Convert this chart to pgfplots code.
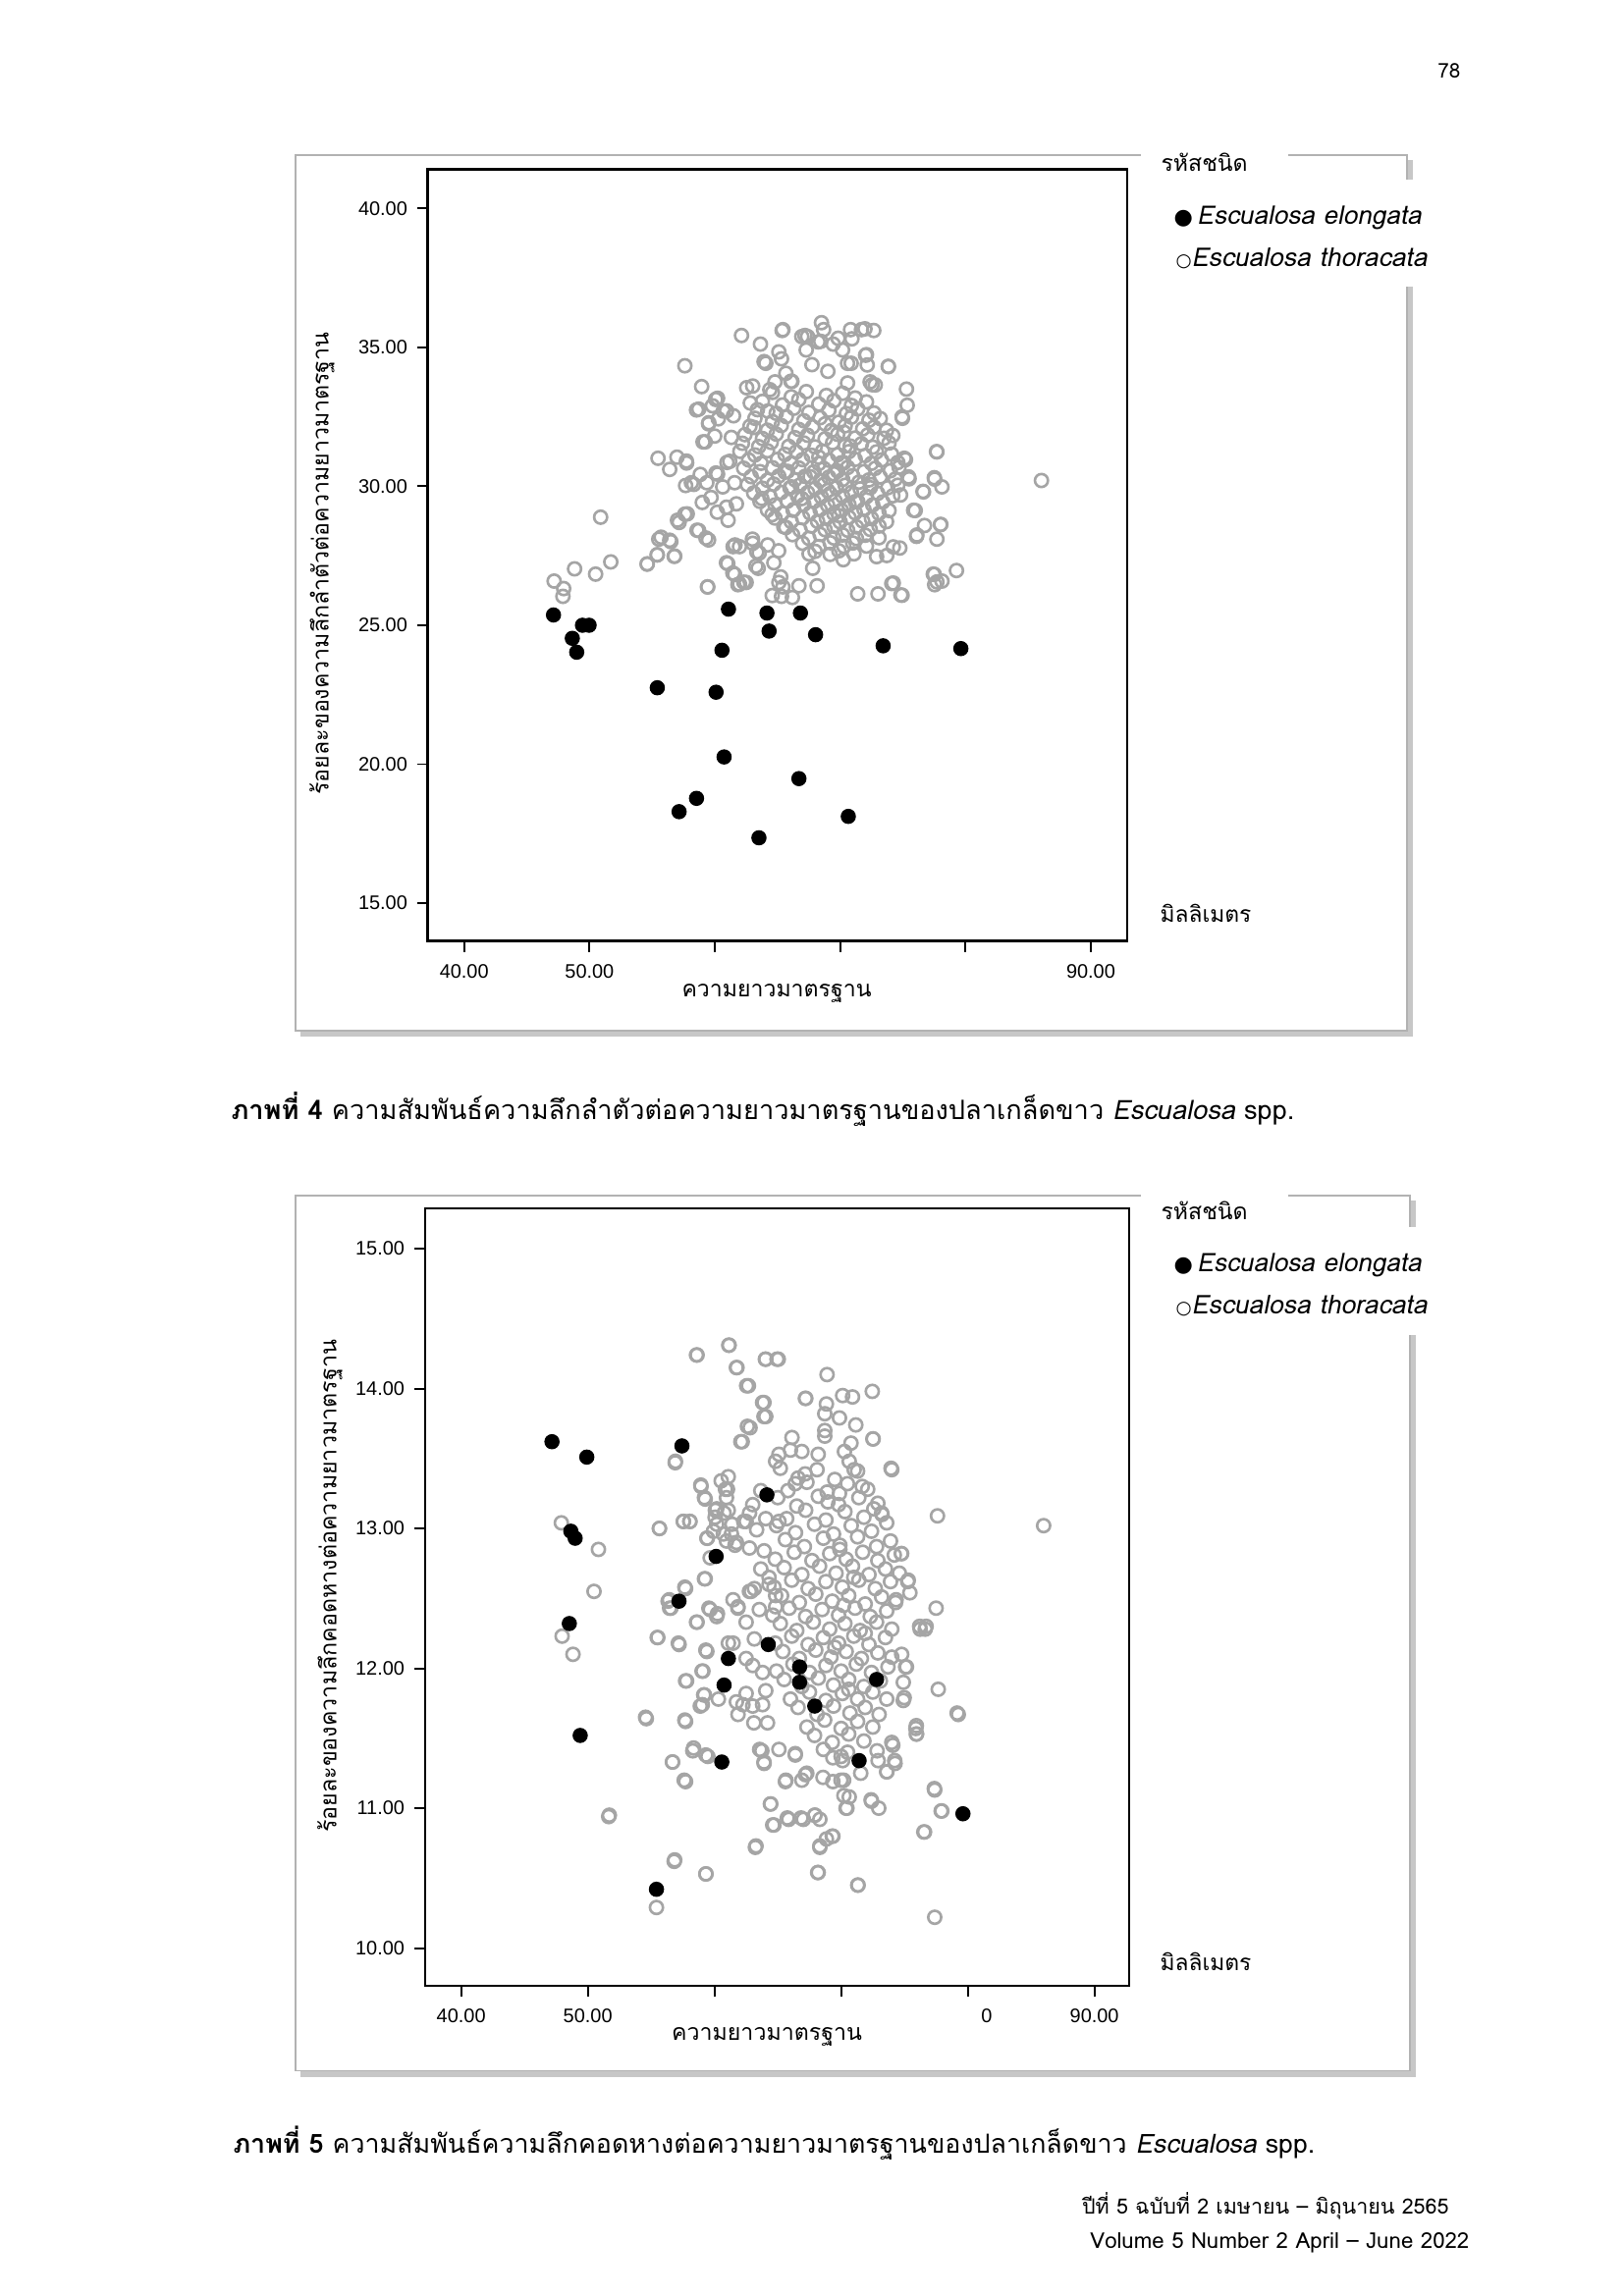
\documentclass[border=0pt]{standalone}
\usepackage{graphicx}
\usepackage{fontspec}
\setmainfont{Liberation Sans}
\newfontfamily\thai[Script=Thai, AutoFakeSlant=0.2]{Loma}
\newfontfamily\sym{DejaVu Sans}
\usepackage{pgfplots}
\pgfplotsset{compat=1.18}
\definecolor{ringgray}{RGB}{165,165,165}
\newcommand{\tickfont}{\fontsize{7.2}{8.5}\selectfont}
\pgfplotsset{myaxis/.style={scale only axis, anchor=north west,
  axis line style={line width=0.9pt},
  tick style={black, line width=0.7pt}, tick align=outside,
  major tick length=1.4mm, tick pos=left,
  ticklabel style={font=\tickfont},
  xticklabel style={yshift=-0.4mm}}}
\pgfplotsset{grayring/.style={only marks, mark=o, mark size=2.4pt, draw=ringgray, mark options={line width=0.95pt, draw=ringgray}},
  blackdot/.style={only marks, mark=*, mark size=2.6pt, mark options={fill=black, draw=black}}}
\begin{document}
\begin{tikzpicture}
\useasboundingbox (0,0) rectangle (210mm,296.98mm);
\begin{scope}[shift={(0,296.98mm)}, x=0.12697mm, y=-0.12697mm]
% frames
\fill[black!22] (306,163) rectangle (1439,1056);
\filldraw[fill=white, draw=black!30, line width=0.4pt] (301,158) rectangle (1433,1050);
\fill[white] (1162,140) rectangle (1312,185);
\fill[white] (1165,183) rectangle (1478,292);
\fill[black!22] (306,1223) rectangle (1442,2116);
\filldraw[fill=white, draw=black!30, line width=0.4pt] (301,1218) rectangle (1436,2110);
\fill[white] (1162,1200) rectangle (1312,1250);
\fill[white] (1165,1250) rectangle (1478,1360);
\end{scope}

%================ TOP CHART =================
\begin{axis}[myaxis, at={(55.32mm,275.07mm)}, width=90.44mm, height=99.79mm,
  xmin=37.1, xmax=92.9, ymin=13.64, ymax=41.41,
  xtick={40,50,60,70,80,90}, xticklabels={40.00,50.00,,,,90.00},
  ytick={15,20,25,30,35,40}, yticklabels={15.00,20.00,25.00,30.00,35.00,40.00}]
\addplot[grayring] table {
x y
47.18 26.59
47.94 26.32
47.88 26.04
48.81 27.03
50.49 26.84
50.89 28.89
51.70 27.28
54.60 27.20
55.41 27.53
55.53 28.10
56.40 28.06
56.80 27.49
57.15 28.70
57.61 34.34
55.47 31.01
56.40 30.61
56.98 31.05
57.73 30.91
57.67 30.03
58.13 30.13
57.61 29.00
58.71 28.41
59.29 28.14
59.41 26.38
58.54 32.75
58.95 33.59
59.06 31.60
59.00 29.42
59.81 32.90
59.52 32.29
59.99 31.81
60.22 33.17
60.68 32.71
60.22 30.44
60.63 29.98
60.97 30.86
61.32 31.76
61.49 32.54
61.03 27.22
61.44 26.88
61.84 26.46
62.31 26.55
61.61 27.89
62.13 35.43
62.54 33.55
62.83 33.00
63.12 32.12
63.64 35.12
63.93 34.49
64.22 32.71
64.39 33.48
64.80 33.76
65.43 35.64
65.32 34.59
65.67 34.07
66.07 33.78
66.94 35.39
67.40 35.39
67.29 34.91
67.75 34.38
68.51 35.89
68.68 35.64
68.45 35.22
69.44 35.12
69.84 35.33
70.19 34.91
70.83 35.64
71.70 35.64
70.88 34.43
72.10 34.74
72.39 33.76
72.80 33.65
73.84 34.32
75.29 33.50
75.35 32.92
74.94 32.50
75.12 31.01
75.46 30.34
74.82 29.69
75.86 29.14
76.09 28.20
76.61 29.82
77.54 30.26
77.72 31.24
78.12 29.98
78.00 28.62
77.72 28.10
77.43 26.84
77.54 26.46
78.12 26.59
79.28 26.97
74.12 26.50
74.94 26.08
73.02 26.13
71.40 26.13
74.76 27.78
74.24 27.82
73.72 27.51
72.91 27.47
86.06 30.21
66.19 26.00
65.43 26.38
65.26 26.74
65.32 26.04
66.71 26.42
67.81 27.05
68.16 26.42
67.52 27.57
70.25 27.36
63.46 27.05
63.35 27.64
63.00 28.10
63.75 29.56
64.22 27.89
64.57 28.98
65.09 27.68
65.67 28.52
66.25 29.14
66.94 29.56
66.13 29.98
65.61 30.51
73.85 34.31
74.97 32.45
77.69 31.25
75.21 30.96
75.50 30.27
77.51 30.31
76.65 29.80
75.99 29.13
78.03 28.63
76.73 28.59
76.12 28.25
77.51 26.83
77.72 26.56
74.85 26.09
74.24 26.52
67.19 35.43
71.98 35.67
72.68 35.61
70.94 35.31
68.24 35.20
72.03 34.72
72.16 34.37
70.59 34.43
69.02 34.14
70.59 33.72
72.55 33.66
66.15 33.78
60.07 33.13
58.72 32.78
60.93 32.72
60.28 32.43
59.50 32.25
59.23 31.60
57.75 30.84
58.84 30.43
60.09 30.48
61.19 30.90
58.32 30.07
59.36 30.13
61.58 30.13
59.70 29.60
57.02 28.78
57.80 29.01
58.58 28.42
59.50 28.07
60.20 29.07
60.93 29.25
61.72 29.37
61.06 28.78
55.71 28.17
56.49 28.01
55.40 27.54
54.61 27.21
56.76 27.48
60.93 27.25
61.58 26.83
61.97 26.48
62.50 26.54
59.44 26.38
61.46 27.83
61.97 27.83
63.02 27.95
63.54 27.60
64.71 27.25
63.28 27.13
64.58 26.07
65.11 26.54
63.02 33.61
64.07 34.43
65.11 34.84
65.37 35.61
64.6 33.38
66.1 33.22
67.3 33.41
68.9 33.27
70.2 33.35
71.2 33.18
63.8 33.06
65.4 32.93
66.7 33.12
68.3 32.96
69.5 33.08
70.9 32.91
72.1 33.04
63.4 32.76
64.9 32.63
66.3 32.81
67.5 32.66
69.1 32.74
70.5 32.62
71.4 32.79
72.7 32.64
63.2 32.45
64.6 32.33
65.7 32.51
67.1 32.36
68.4 32.47
69.9 32.31
70.9 32.49
72.3 32.38
73.2 32.44
62.8 32.16
64.2 32.02
65.3 32.19
66.7 32.05
67.8 32.14
69.3 32.01
70.4 32.18
71.8 32.07
72.7 32.13
73.7 32.02
62.4 31.86
63.8 31.72
64.9 31.88
66.4 31.75
67.4 31.84
68.8 31.71
69.8 31.87
71.2 31.74
72.2 31.85
73.5 31.73
74.2 31.83
62.2 31.55
63.5 31.43
64.5 31.58
65.9 31.44
67.1 31.56
68.0 31.42
69.4 31.57
70.4 31.45
71.7 31.53
72.6 31.41
73.9 31.56
62.0 31.26
63.2 31.13
64.2 31.28
65.6 31.15
66.5 31.24
67.7 31.12
68.6 31.27
69.8 31.14
70.7 31.25
72.0 31.11
72.9 31.24
74.1 31.16
62.7 30.95
63.7 30.83
65.0 30.97
66.1 30.84
67.0 30.96
68.3 30.82
69.1 30.94
70.3 30.85
71.2 30.97
72.5 30.83
73.3 30.95
74.6 30.86
62.3 30.65
63.6 30.53
64.6 30.67
65.8 30.54
66.7 30.66
67.9 30.52
68.7 30.64
69.8 30.55
70.6 30.68
71.9 30.53
72.8 30.65
74.0 30.56
74.7 30.69
62.9 30.35
64.2 30.22
65.1 30.37
66.4 30.24
67.2 30.36
68.4 30.21
69.1 30.33
70.2 30.25
71.0 30.38
72.3 30.23
73.2 30.34
74.4 30.26
62.6 30.06
63.8 29.93
64.7 30.08
66.0 29.94
66.8 30.05
68.0 29.92
68.7 30.07
69.7 29.95
70.4 30.04
71.6 29.91
72.5 30.06
73.8 29.95
74.6 30.04
63.1 29.76
64.4 29.63
65.3 29.78
66.6 29.65
67.4 29.77
68.5 29.62
69.2 29.74
70.2 29.64
70.9 29.78
72.1 29.63
73.0 29.75
74.2 29.66
63.6 29.46
64.8 29.33
65.8 29.47
67.1 29.35
67.9 29.45
69.0 29.32
69.6 29.47
70.7 29.34
71.4 29.46
72.6 29.33
73.4 29.44
64.2 29.15
65.4 29.03
66.3 29.17
67.6 29.04
68.4 29.16
69.5 29.02
70.1 29.14
71.2 29.05
71.9 29.17
73.1 29.03
73.9 29.13
64.8 28.86
66.1 28.73
67.0 28.87
68.2 28.74
68.9 28.85
70.0 28.72
70.7 28.88
71.8 28.75
72.5 28.84
73.7 28.73
65.5 28.55
66.8 28.43
67.7 28.57
68.8 28.44
69.5 28.56
70.6 28.42
71.3 28.54
72.4 28.45
73.1 28.57
66.2 28.26
67.5 28.13
68.4 28.27
69.5 28.14
70.2 28.25
71.3 28.12
72.0 28.24
73.1 28.15
67.0 27.95
68.3 27.83
69.2 27.97
70.3 27.84
71.0 27.96
72.1 27.85
68.0 27.66
69.2 27.55
69.9 27.68
71.1 27.57
68.3 31.05
69.5 30.45
70.8 31.45
71.5 30.15
69.0 29.85
70.1 30.85
72.4 29.95
67.6 30.35
68.8 32.25
70.3 31.95
71.2 29.45
69.9 28.95
};
\addplot[blackdot] table {
x y
47.13 25.37
48.63 24.53
48.98 24.03
49.44 25.00
49.97 25.00
55.41 22.75
57.15 18.29
58.54 18.77
60.10 22.59
60.57 24.10
60.74 20.26
61.09 25.58
63.52 17.35
64.16 25.44
64.33 24.79
66.71 19.48
66.83 25.44
68.04 24.66
70.65 18.12
73.43 24.26
79.63 24.16
};
\end{axis}

%================ BOTTOM CHART =================
\begin{axis}[myaxis, at={(54.95mm,140.71mm)}, width=91.06mm, height=100.59mm,
  xmin=37.14, xmax=92.74, ymin=9.73, ymax=15.29,
  xtick={40,50,60,70,80,90}, xticklabels={40.00,50.00,,,\phantom{80.0}0,90.00},
  ytick={10,11,12,13,14,15}, yticklabels={10.00,11.00,12.00,13.00,14.00,15.00}]
\addplot[grayring] table {
x y
47.91 13.04
50.84 12.85
50.49 12.55
47.97 12.23
48.83 12.10
51.70 10.95
54.56 11.65
55.42 10.29
55.65 13.00
55.48 12.22
56.86 10.63
56.69 11.33
56.92 13.48
56.34 12.48
56.46 12.43
57.15 12.18
57.61 11.20
57.66 11.63
57.72 11.91
57.55 13.05
58.06 13.05
57.66 12.58
58.58 14.24
58.35 11.43
58.58 12.33
58.92 13.31
59.21 13.22
59.04 11.74
59.21 11.81
59.21 12.64
59.32 11.38
59.32 10.53
59.44 12.93
59.56 12.43
59.32 12.13
59.09 11.98
60.07 13.13
60.24 12.39
60.53 13.34
60.87 13.28
61.16 14.31
60.76 13.11
60.70 12.96
61.39 13.03
61.10 12.18
61.73 14.15
61.62 12.88
61.85 12.43
61.73 11.76
62.54 14.02
62.08 13.62
62.60 13.73
62.31 13.05
62.77 13.11
62.89 12.55
63.11 11.61
63.28 10.73
63.57 11.42
63.91 13.90
63.91 13.80
64.02 14.21
64.94 14.21
63.91 11.33
64.42 11.03
64.60 10.88
65.64 11.20
65.75 10.93
66.38 11.38
66.84 10.93
67.18 13.93
67.18 11.24
67.92 10.95
68.15 10.54
68.32 10.73
68.89 14.10
69.30 10.80
69.99 11.20
70.22 11.09
70.39 11.00
71.31 10.45
72.40 11.05
72.46 13.98
72.51 13.64
73.94 13.43
72.97 11.00
73.60 11.26
74.23 11.34
74.00 11.47
74.75 12.82
75.26 12.62
75.43 12.54
75.09 12.01
74.98 11.79
75.90 11.57
75.96 11.53
76.24 12.28
76.64 12.28
76.53 10.83
77.50 12.43
77.61 13.09
77.67 11.85
77.39 11.13
77.90 10.98
79.16 11.68
77.39 10.22
85.99 13.02
67.21 13.93
70.12 13.95
70.90 13.94
68.84 13.89
68.71 13.82
69.87 13.79
71.16 13.74
72.53 13.64
74.00 13.42
68.71 13.70
68.71 13.66
70.78 13.61
70.26 13.55
66.12 13.65
66.00 13.56
66.90 13.55
68.19 13.53
70.64 13.48
71.03 13.42
71.67 13.30
69.87 13.25
68.96 13.19
66.38 13.32
67.16 13.39
72.58 13.14
73.23 13.10
74.78 12.82
75.30 12.63
74.34 12.49
76.20 12.30
76.71 12.30
79.25 11.67
75.94 11.59
75.94 11.53
74.91 11.77
74.91 11.90
75.16 12.01
74.78 12.10
74.08 11.45
74.26 11.32
73.61 11.26
72.92 11.34
71.55 11.25
70.64 11.08
70.46 11.00
72.37 11.06
77.36 11.14
77.95 10.98
76.59 10.83
68.19 10.54
71.34 10.45
68.32 10.72
68.84 10.78
69.35 10.80
65.86 10.92
67.02 10.92
67.93 10.95
68.32 10.92
65.60 11.19
66.90 11.20
67.29 11.25
68.57 11.22
69.35 11.19
70.20 11.20
66.38 11.39
69.35 11.36
70.12 11.34
70.51 11.40
72.84 11.41
58.63 14.24
61.13 14.31
61.78 14.15
64.05 14.21
65.04 14.21
62.68 14.02
63.80 13.90
64.05 13.80
62.81 13.72
62.19 13.62
56.90 13.47
64.83 13.48
65.09 13.53
61.09 13.37
58.94 13.30
59.27 13.21
61.03 13.28
60.95 13.22
61.09 13.13
60.18 13.14
60.05 13.08
63.02 13.17
63.66 13.27
62.50 13.05
63.33 12.99
64.05 13.07
65.09 13.05
55.66 13.00
57.54 13.05
58.06 13.05
60.18 13.03
59.92 12.98
59.40 12.93
61.34 12.96
61.73 12.90
62.76 12.86
63.92 12.84
60.95 12.91
59.66 12.79
63.66 12.71
59.27 12.64
57.72 12.57
56.43 12.49
56.56 12.43
59.66 12.42
60.18 12.37
61.47 12.49
61.86 12.44
62.76 12.55
63.15 12.57
64.31 12.60
64.83 12.52
62.50 12.33
58.63 12.33
63.54 12.42
64.83 12.44
64.31 12.65
55.53 12.22
57.21 12.17
59.40 12.12
59.02 11.98
57.80 11.91
59.15 11.81
60.31 11.78
58.88 11.73
61.86 11.67
62.25 11.74
63.02 11.73
63.80 11.74
62.50 11.82
64.05 11.84
63.02 12.02
63.80 11.97
62.50 12.07
61.47 12.18
63.15 12.21
64.19 11.61
65.09 11.42
63.74 11.41
63.92 11.32
54.62 11.64
57.72 11.62
58.29 11.41
59.48 11.37
56.69 11.33
57.72 11.19
51.65 10.94
64.44 11.03
64.70 10.88
63.23 10.72
56.82 10.62
59.33 10.53
65.2 13.43
66.6 13.36
68.1 13.42
69.5 13.35
71.3 13.41
65.8 13.27
67.3 13.33
68.9 13.26
70.5 13.32
72.1 13.28
65.0 13.22
66.5 13.16
68.2 13.23
69.8 13.17
71.4 13.22
72.9 13.18
65.7 13.07
67.2 13.13
68.8 13.06
70.3 13.12
71.8 13.08
73.2 13.11
64.9 13.02
66.4 12.97
67.9 13.03
69.4 12.96
70.8 13.02
72.4 12.98
73.6 13.04
65.6 12.92
67.1 12.87
68.6 12.93
69.9 12.88
71.3 12.94
72.8 12.87
73.9 12.91
64.8 12.78
66.3 12.83
67.7 12.77
69.1 12.82
70.4 12.78
71.7 12.83
72.9 12.77
74.2 12.81
65.5 12.72
66.9 12.67
68.3 12.73
69.6 12.68
70.9 12.73
72.2 12.67
73.5 12.71
74.6 12.68
64.7 12.58
66.1 12.63
67.4 12.57
68.8 12.62
70.1 12.58
71.4 12.63
72.7 12.57
73.9 12.62
65.3 12.52
66.7 12.47
68.0 12.53
69.3 12.48
70.6 12.52
71.9 12.46
73.2 12.51
74.3 12.47
64.6 12.38
65.9 12.43
67.2 12.37
68.5 12.42
69.8 12.38
71.1 12.43
72.3 12.37
73.6 12.41
65.2 12.32
66.5 12.27
67.8 12.33
69.1 12.28
70.3 12.32
71.5 12.27
72.8 12.33
74.0 12.28
64.8 12.18
66.1 12.23
67.4 12.17
68.6 12.22
69.8 12.18
71.0 12.23
72.2 12.17
73.5 12.22
65.4 12.12
66.7 12.07
68.0 12.13
69.2 12.08
70.4 12.12
71.6 12.07
72.9 12.11
74.0 12.08
64.9 11.98
66.2 12.03
67.5 11.97
68.8 12.02
70.0 11.98
71.2 12.03
72.4 11.97
73.7 12.01
65.5 11.92
66.9 11.87
68.2 11.93
69.4 11.88
70.6 11.92
71.8 11.87
73.1 11.91
66.0 11.78
67.5 11.83
68.8 11.77
70.1 11.82
71.3 11.78
72.5 11.83
73.6 11.78
66.6 11.72
68.1 11.67
69.4 11.73
70.7 11.68
71.9 11.72
73.0 11.67
67.3 11.58
68.7 11.63
70.0 11.57
71.3 11.62
72.5 11.58
67.9 11.52
69.3 11.47
70.6 11.53
71.8 11.48
68.6 11.42
70.0 11.37
70.2 12.45
71.0 12.65
69.5 12.15
71.9 12.25
70.6 11.85
69.9 12.85
};
\addplot[blackdot] table {
x y
47.17 13.62
49.92 13.51
57.43 13.59
48.66 12.98
49.00 12.93
64.14 13.24
60.13 12.80
57.20 12.48
48.54 12.32
64.25 12.17
61.10 12.07
60.76 11.88
66.72 12.01
66.72 11.90
67.92 11.73
72.80 11.92
49.40 11.52
60.58 11.33
71.42 11.34
79.62 10.96
55.42 10.42
};
\end{axis}

%================ TEXT =================
\begin{scope}[shift={(0,296.98mm)}, x=0.12697mm, y=-0.12697mm]
\node at (1476,72) {\resizebox{2.92mm}{!}{\thai 78}};
% top chart texts
\node[rotate=90] at (328,574) {\resizebox{59.8mm}{!}{\thai ร้อยละของความลึกลำตัวต่อความยาวมาตรฐาน}};
\node at (791,1012) {\resizebox{24.5mm}{!}{\thai ความยาวมาตรฐาน}};
\node[anchor=west, inner sep=0] at (1182,165) {\resizebox{11.2mm}{!}{\thai รหัสชนิด}};
\node[anchor=west, inner sep=0] at (1195,222) {\resizebox{32mm}{!}{{\sym\scalebox{0.85}{●}}\,{\thai\itshape Escualosa elongata}}};
\node[anchor=west, inner sep=0] at (1197,263) {\resizebox{32.5mm}{!}{{\sym\scalebox{0.7}{○}}{\thai\itshape Escualosa thoracata}}};
\node[anchor=west, inner sep=0] at (1181,930) {\resizebox{11.8mm}{!}{\thai มิลลิเมตร}};
% bottom chart texts
\node[rotate=90] at (336,1616) {\resizebox{63.7mm}{!}{\thai ร้อยละของความลึกคอดหางต่อความยาวมาตรฐาน}};
\node at (781,2075) {\resizebox{24.6mm}{!}{\thai ความยาวมาตรฐาน}};
\node[anchor=west, inner sep=0] at (1182,1233) {\resizebox{11.2mm}{!}{\thai รหัสชนิด}};
\node[anchor=west, inner sep=0] at (1195,1289) {\resizebox{32mm}{!}{{\sym\scalebox{0.85}{●}}\,{\thai\itshape Escualosa elongata}}};
\node[anchor=west, inner sep=0] at (1197,1330) {\resizebox{32.5mm}{!}{{\sym\scalebox{0.7}{○}}{\thai\itshape Escualosa thoracata}}};
\node[anchor=west, inner sep=0] at (1181,1998) {\resizebox{11.8mm}{!}{\thai มิลลิเมตร}};
% captions
\node[anchor=west, inner sep=0] at (235,1130) {\resizebox{137.5mm}{!}{\thai\textbf{ภาพที่ 4} ความสัมพันธ์ความลึกลำตัวต่อความยาวมาตรฐานของปลาเกล็ดขาว \textit{Escualosa} spp.}};
\node[anchor=west, inner sep=0] at (237,2183) {\resizebox{139.9mm}{!}{\thai\textbf{ภาพที่ 5} ความสัมพันธ์ความลึกคอดหางต่อความยาวมาตรฐานของปลาเกล็ดขาว \textit{Escualosa} spp.}};
% footer
\node[anchor=east, inner sep=0] at (1476,2247) {\resizebox{47.4mm}{!}{\thai ปีที่ 5 ฉบับที่ 2 เมษายน – มิถุนายน 2565}};
\node[anchor=east, inner sep=0] at (1497,2285) {\resizebox{49mm}{!}{\thai Volume 5 Number 2 April – June 2022}};
\end{scope}
\end{tikzpicture}
\end{document}
